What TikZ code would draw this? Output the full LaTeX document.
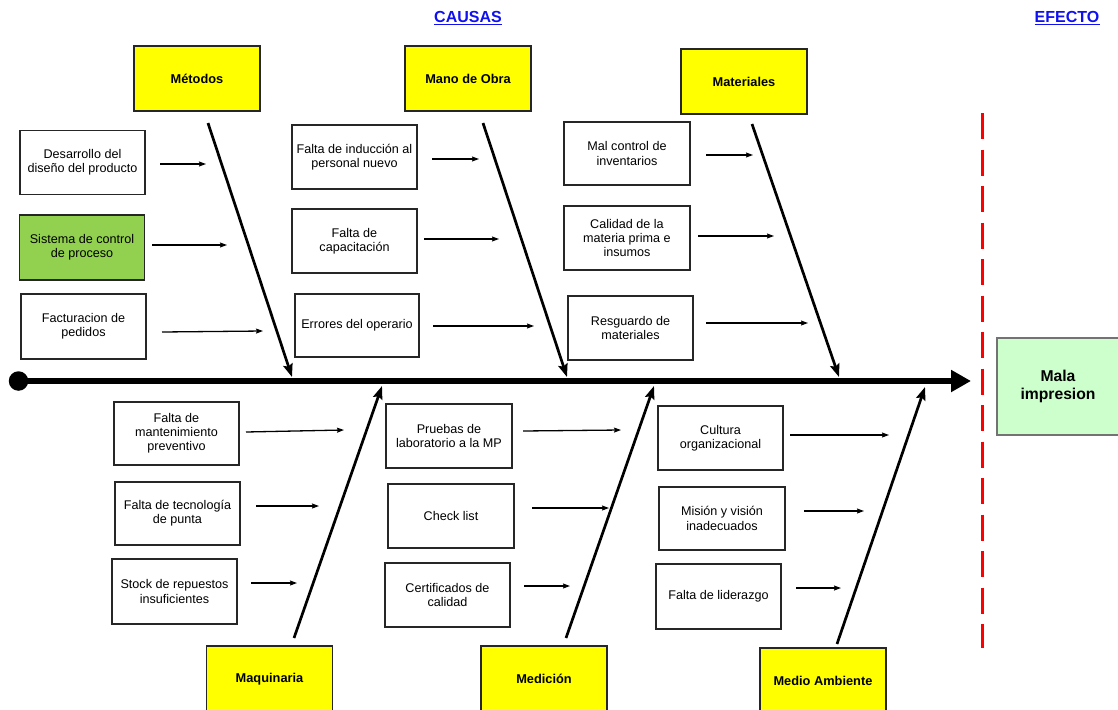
\documentclass[tikz,border=0pt]{standalone}
\usepackage{fontspec}
\setmainfont{Liberation Sans}
\usetikzlibrary{arrows.meta}

\definecolor{catyellow}{HTML}{FFFF00}
\definecolor{ctrlgreen}{HTML}{92D050}
\definecolor{effgreen}{HTML}{CCFFCC}
\definecolor{headblue}{HTML}{1010F0}
\definecolor{limitred}{HTML}{FF0000}

% short arrow from a cause box towards its bone: name, x-tail, x-head, y-tail, y-head
\newcommand\feedarrow[5]{%
  \coordinate (#1-a) at (#2,#4);
  \coordinate (#1-b) at (#3,#5);
  \draw[feed] (#1-a) -- (#1-b);}

% main bone of a category: name, start point, end point on the spine
\newcommand\catbone[5]{%
  \coordinate (#1-s) at (#2,#3);
  \coordinate (#1-e) at (#4,#5);
  \draw[bone] (#1-s) -- (#1-e);}

\begin{document}
\begin{tikzpicture}[x=1pt,y=-1pt,
  cause/.style={draw=black!85, line width=1.3pt, fill=white, minimum width=125pt,
    minimum height=64pt, inner sep=0pt, align=center,
    font=\fontsize{12.6}{14.2}\selectfont},
  category/.style={draw=black!85, line width=1.4pt, fill=catyellow, minimum width=126pt,
    minimum height=65pt, inner sep=0pt, font=\bfseries\fontsize{12.8}{15}\selectfont},
  bone/.style={line width=2.7pt, -{Stealth[length=13pt,width=9.5pt,inset=2pt]}},
  feed/.style={line width=1.3pt, -{Stealth[length=7pt,width=5pt,inset=1pt]}},
  heading/.style={text=headblue, font=\bfseries\fontsize{16}{18}\selectfont, inner sep=0pt},
  underbar/.style={headblue, line width=1.3pt}
]
\useasboundingbox (0,0) rectangle (1118,709);
\clip (0,0) rectangle (1118,709);

% headings
\node[heading] (causas) at (468,17) {CAUSAS};
\draw[underbar] ([yshift=-2.2pt]causas.base west) -- ([yshift=-2.2pt]causas.base east);
\node[heading] (efecto) at (1067,17) {EFECTO};
\draw[underbar] ([yshift=-2.2pt]efecto.base west) -- ([yshift=-2.2pt]efecto.base east);

% categories
\node[category] (metodos)    at (197,78.5)  {Métodos};
\node[category] (manoobra)   at (468,78.5)  {Mano de Obra};
\node[category] (materiales) at (744,81.5)  {Materiales};
\node[category, minimum height=66pt] (maquinaria) at (269.5,679) {Maquinaria};
\node[category, minimum height=66pt] (medicion)   at (544,679)   {Medición};
\node[category, minimum height=66pt] (ambiente)   at (823,681)   {Medio Ambiente};

% effect
\node[draw=black!55, line width=1.4pt, fill=effgreen, minimum width=122pt, minimum height=97pt,
  inner sep=0pt, align=center, font=\bfseries\fontsize{15.7}{17.5}\selectfont]
  (effect) at (1058,386.5) {Mala\\impresion};

% limit between causes and effect
\coordinate (limtop) at (982,113);
\coordinate (limbot) at (982,648);
\draw[limitred, line width=3pt, dash pattern=on 26pt off 10.5pt] (limtop) -- (limbot);

% spine
\node[circle, fill=black, minimum size=19.5pt, inner sep=0pt] (tail) at (18.5,381) {};
\coordinate (head) at (971,381);
\draw[line width=6pt, -{Triangle[length=20pt,width=21pt]}] (tail.center) -- (head);

% bones
\catbone{bmet}{208}{123}{292}{377}
\catbone{bmob}{483}{123}{567}{377}
\catbone{bmat}{752}{124}{839}{377}
\catbone{bmaq}{294}{638}{382}{386}
\catbone{bmed}{566}{638}{654}{386}
\catbone{bamb}{837}{644}{925}{387}

% causes: Métodos
\node[cause] (c1) at (82.5,162.5) {Desarrollo del\\diseño del producto};
\node[cause, fill=ctrlgreen, minimum height=65pt] (c2) at (82,247.5) {Sistema de control\\de proceso};
\node[cause, minimum height=65pt] (c3) at (83.5,326.5) {Facturacion de\\pedidos};
\feedarrow{f1}{160}{206}{164}{164}
\feedarrow{f2}{152}{227}{245}{245}
\feedarrow{f3}{162}{263}{332}{331}

% causes: Mano de Obra
\node[cause] (c4) at (354.5,157) {Falta de inducción al\\personal nuevo};
\node[cause] (c5) at (354.5,241) {Falta de\\capacitación};
\node[cause, minimum width=124pt, minimum height=63pt] (c6) at (357,325.5) {Errores del operario};
\feedarrow{f4}{432}{479}{159}{159}
\feedarrow{f5}{424}{499}{239}{239}
\feedarrow{f6}{433}{534}{326}{326}

% causes: Materiales
\node[cause, minimum width=126pt, minimum height=63pt] (c7) at (627,153.5) {Mal control de\\inventarios};
\node[cause, minimum width=126pt] (c8) at (627,238) {Calidad de la\\materia prima e\\insumos};
\node[cause] (c9) at (630.5,328) {Resguardo de\\materiales};
\feedarrow{f7}{706}{753}{155}{155}
\feedarrow{f8}{698}{774}{236}{236}
\feedarrow{f9}{706}{808}{323}{323}

% causes: Maquinaria
\node[cause, minimum height=63pt] (c10) at (176.5,433.5) {Falta de\\mantenimiento\\preventivo};
\node[cause, minimum height=63pt] (c11) at (177.5,513.5) {Falta de tecnología\\de punta};
\node[cause, minimum height=65pt] (c12) at (174.5,591.5) {Stock de repuestos\\insuficientes};
\feedarrow{f10}{246}{344}{432}{430}
\feedarrow{f11}{256}{319}{506}{506}
\feedarrow{f12}{251}{297}{583}{583}

% causes: Medición
\node[cause, minimum width=126pt] (c13) at (449,436) {Pruebas de\\laboratorio a la MP};
\node[cause, minimum width=126pt] (c14) at (451,516) {Check list};
\node[cause] (c15) at (447.5,595) {Certificados de\\calidad};
\feedarrow{f13}{523}{621}{431}{430}
\feedarrow{f14}{532}{609}{508}{508}
\feedarrow{f15}{524}{570}{586}{586}

% causes: Medio Ambiente
\node[cause] (c16) at (720.5,438) {Cultura\\organizacional};
\node[cause, minimum width=126pt, minimum height=63pt] (c17) at (722,518.5) {Misión y visión\\inadecuados};
\node[cause, minimum height=65pt] (c18) at (718.5,596.5) {Falta de liderazgo};
\feedarrow{f16}{790}{889}{435}{435}
\feedarrow{f17}{804}{864}{511}{511}
\feedarrow{f18}{796}{841}{588}{588}

\end{tikzpicture}
\end{document}
